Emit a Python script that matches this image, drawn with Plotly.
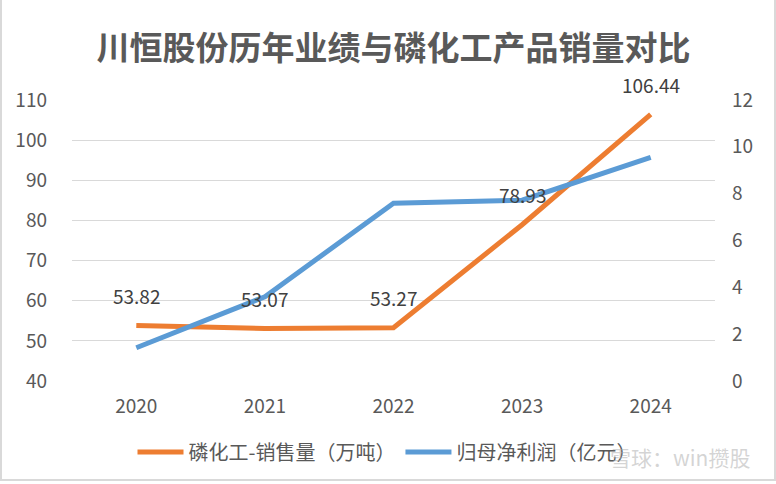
import plotly.graph_objects as go

years = ["2020", "2021", "2022", "2023", "2024"]
sales = [53.82, 53.07, 53.27, 78.93, 106.44]
profit = [1.42, 3.6, 7.59, 7.72, 9.55]
sales_name = "磷化工-销售量（万吨）"
profit_name = "归母净利润（亿元）"
title = "川恒股份历年业绩与磷化工产品销量对比"
left_ticks = [40, 50, 60, 70, 80, 90, 100, 110]
right_ticks = [0, 2, 4, 6, 8, 10, 12]

FONT = "Noto Sans CJK SC"
GREY = "#595959"

fig = go.Figure()
fig.add_trace(go.Scatter(x=years, y=sales, name=sales_name, mode="lines",
                         line=dict(color="#ED7D31", width=5), yaxis="y"))
fig.add_trace(go.Scatter(x=years, y=profit, name=profit_name, mode="lines",
                         line=dict(color="#5B9BD5", width=5), yaxis="y2"))

for i, v in enumerate(sales):
    fig.add_annotation(x=i, y=v, xref="x", yref="y", text=f"{v:.2f}", showarrow=False,
                       yshift=30, font=dict(family=FONT, size=19, color="#404040"))

ml, mr, mt, mb = 72, 61, 100, 103
pw, ph = 776 - ml - mr, 484 - mt - mb

# watermark
fig.add_annotation(xref="paper", yref="paper", x=(680 - ml) / pw, y=(381 - 457) / ph,
                   text="雪球：win攒股", showarrow=False, xanchor="center", yanchor="middle",
                   font=dict(family=FONT, size=21, color="rgba(170,170,170,0.5)"))

fig.add_shape(type="rect", xref="paper", yref="paper",
              x0=(1 - ml) / pw, x1=(775 - ml) / pw,
              y0=(484 - mt - 483) / ph, y1=(484 - mt - 1) / ph,
              line=dict(color="#D9D9D9", width=2), layer="below")

fig.update_layout(
    width=776, height=484,
    margin=dict(l=ml, r=mr, t=mt, b=mb),
    paper_bgcolor="white", plot_bgcolor="white",
    title=dict(text=f"<b>{title}</b>", x=0.5, xref="paper", xanchor="center",
               y=1 - 48 / 484, yanchor="middle",
               font=dict(family=FONT, size=33, color=GREY)),
    xaxis=dict(type="category", range=[-0.5, 4.5], showgrid=False, showline=False,
               zeroline=False, ticks="",
               tickfont=dict(family=FONT, size=19, color=GREY), ticklabelstandoff=12),
    yaxis=dict(range=[40, 110], tickvals=left_ticks, showgrid=True, gridcolor="#D9D9D9",
               gridwidth=1, zeroline=False, showline=False, ticks="",
               tickfont=dict(family=FONT, size=19, color=GREY), ticklabelstandoff=24),
    yaxis2=dict(range=[0, 12], tickvals=right_ticks, overlaying="y", side="right",
                showgrid=False, zeroline=False, showline=False, ticks="",
                tickfont=dict(family=FONT, size=19, color=GREY), ticklabelstandoff=16),
    legend=dict(orientation="h", x=(387 - ml) / pw, xanchor="center", y=(381 - 452) / ph,
                yanchor="middle", font=dict(family=FONT, size=20, color=GREY),
                itemwidth=46, bgcolor="rgba(0,0,0,0)"),
    showlegend=True,
)

fig.write_html("out.html", config={"displayModeBar": False},
               post_script="document.body.style.margin='0';")
